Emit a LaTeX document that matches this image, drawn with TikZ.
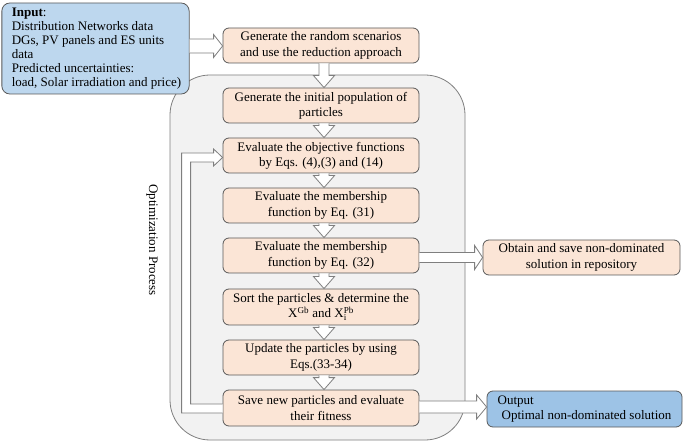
\documentclass[tikz,border=0pt]{standalone}
\usepackage{fontspec}
\setmainfont{Liberation Serif}
\usetikzlibrary{calc}
\definecolor{peach}{HTML}{FBE5D6}
\definecolor{inblue}{HTML}{BDD7EE}
\definecolor{outblue}{HTML}{9DC3E6}
\definecolor{contfill}{HTML}{F2F2F2}
\definecolor{boxline}{HTML}{595959}
\definecolor{arrline}{HTML}{7F7F7F}
\tikzset{
  stepbox/.style={draw=boxline, fill=peach, rounded corners=6pt, minimum width=196pt,
    minimum height=35pt, align=center, inner sep=2pt, line width=0.8pt,
    font=\fontsize{13}{15.3}\selectfont},
  bluebox/.style={draw=boxline, rounded corners=8pt, line width=0.8pt, align=left,
    font=\fontsize{13}{14}\selectfont},
  blockarr/.style={draw=arrline, fill=white, line width=0.8pt, line join=miter},
}
\newcommand\varr[2]{%
  \filldraw[blockarr] ($(#1.south)+(-2,0)$) -- ($(#2.north)+(-2,-12)$)
    -- ($(#2.north)+(-7.5,-12)$) -- ($(#2.north)+(3,0)$)
    -- ($(#2.north)+(13.5,-12)$) -- ($(#2.north)+(8,-12)$) -- ($(#1.south)+(8,0)$);}
\begin{document}
\begin{tikzpicture}[x=1pt,y=-1pt]
\useasboundingbox (0,0) rectangle (685,443);
% container
\node[draw=arrline, fill=contfill, rounded corners=40pt, line width=0.8pt,
  minimum width=295pt, minimum height=365pt, inner sep=0pt] (cont) at (317.5,257.5) {};
\node[rotate=-90, font=\fontsize{13}{15}\selectfont] (optlab) at (152,240) {Optimization Process};
% input / output
\node[bluebox, fill=inblue, minimum width=185pt, minimum height=91pt, inner xsep=8pt] (input) at (95.5,48.5)
  {\hspace*{2pt}\textbf{Input}:\\\hspace*{2pt}Distribution Networks data\\\hspace*{2pt}DGs, PV panels and ES units\\\hspace*{2pt}data\\\hspace*{2pt}Predicted uncertainties:\\\hspace*{2pt}load, Solar irradiation and price)};
\node[stepbox] (gen) at (321,45.5) {Generate the random scenarios\\and use the reduction approach};
\node[stepbox] (init) at (321,105.5) {Generate the initial population of\\particles};
\node[stepbox] (eval) at (321,155.5) {Evaluate the objective functions\\by Eqs. (4),(3) and (14)};
\node[stepbox] (m31) at (321,205.5) {Evaluate the membership\\function by Eq. (31)};
\node[stepbox] (m32) at (321,255.5) {Evaluate the membership\\function by Eq. (32)};
\node[stepbox, minimum height=36pt] (sort) at (321,307) {Sort the particles \& determine the\\$\mathrm{X}^{\mathrm{Gb}}$ and $\mathrm{X}_{\mathrm{i}}^{\mathrm{Pb}}$};
\node[stepbox] (upd) at (321,357.5) {Update the particles by using\\Eqs.(33-34)};
\node[stepbox, minimum height=36pt] (save) at (321,408) {Save new particles and evaluate\\their fitness};
\node[stepbox, minimum width=197pt] (obtain) at (581.5,257.5) {Obtain and save non-dominated\\solution in repository};
\node[bluebox, fill=outblue, minimum width=195pt, minimum height=36pt, rounded corners=6pt,
  font=\fontsize{13}{15}\selectfont] (output) at (584.5,409)
  {Output\\\hspace*{4pt}Optimal non-dominated solution};
% vertical arrows
\varr{gen}{init}
\varr{init}{eval}
\varr{eval}{m31}
\varr{m31}{m32}
\varr{m32}{sort}
\varr{sort}{upd}
\varr{upd}{save}
% input -> gen
\filldraw[blockarr] ($(input.east|-gen.west)+(0,-6.5)$) -- ($(gen.west)+(-9,-6.5)$)
  -- ($(gen.west)+(-9,-11)$) -- ($(gen.west)+(0,0.5)$) -- ($(gen.west)+(-9,12)$)
  -- ($(gen.west)+(-9,7.5)$) -- ($(input.east|-gen.west)+(0,7.5)$);
% m32 -> obtain
\filldraw[blockarr] ($(m32.east|-obtain.west)+(0,-5)$) -- ($(obtain.west)+(-8,-5)$)
  -- ($(obtain.west)+(-8,-12)$) -- (obtain.west) -- ($(obtain.west)+(-8,12)$)
  -- ($(obtain.west)+(-8,5)$) -- ($(m32.east|-obtain.west)+(0,5)$);
% save -> output
\filldraw[blockarr] ($(save.east|-output.west)+(0,-8)$) -- ($(output.west)+(-10,-8)$)
  -- ($(output.west)+(-10,-14)$) -- ($(output.west)+(0,-2)$) -- ($(output.west)+(-10,10)$)
  -- ($(output.west)+(-10,4)$) -- ($(save.east|-output.west)+(0,4)$);
% feedback loop save -> eval
\filldraw[blockarr] ($(save.west)+(0,5)$) -| ($(eval.west)+(-41,-2.5)$)
  -- ($(eval.west)+(-9,-2.5)$) -- ($(eval.west)+(-9,-6.5)$) -- ($(eval.west)+(0,2)$)
  -- ($(eval.west)+(-9,10.5)$) -- ($(eval.west)+(-9,6.5)$)
  -| ($(save.west)+(-32,-4)$) -- ($(save.west)+(0,-4)$);
\end{tikzpicture}
\end{document}
